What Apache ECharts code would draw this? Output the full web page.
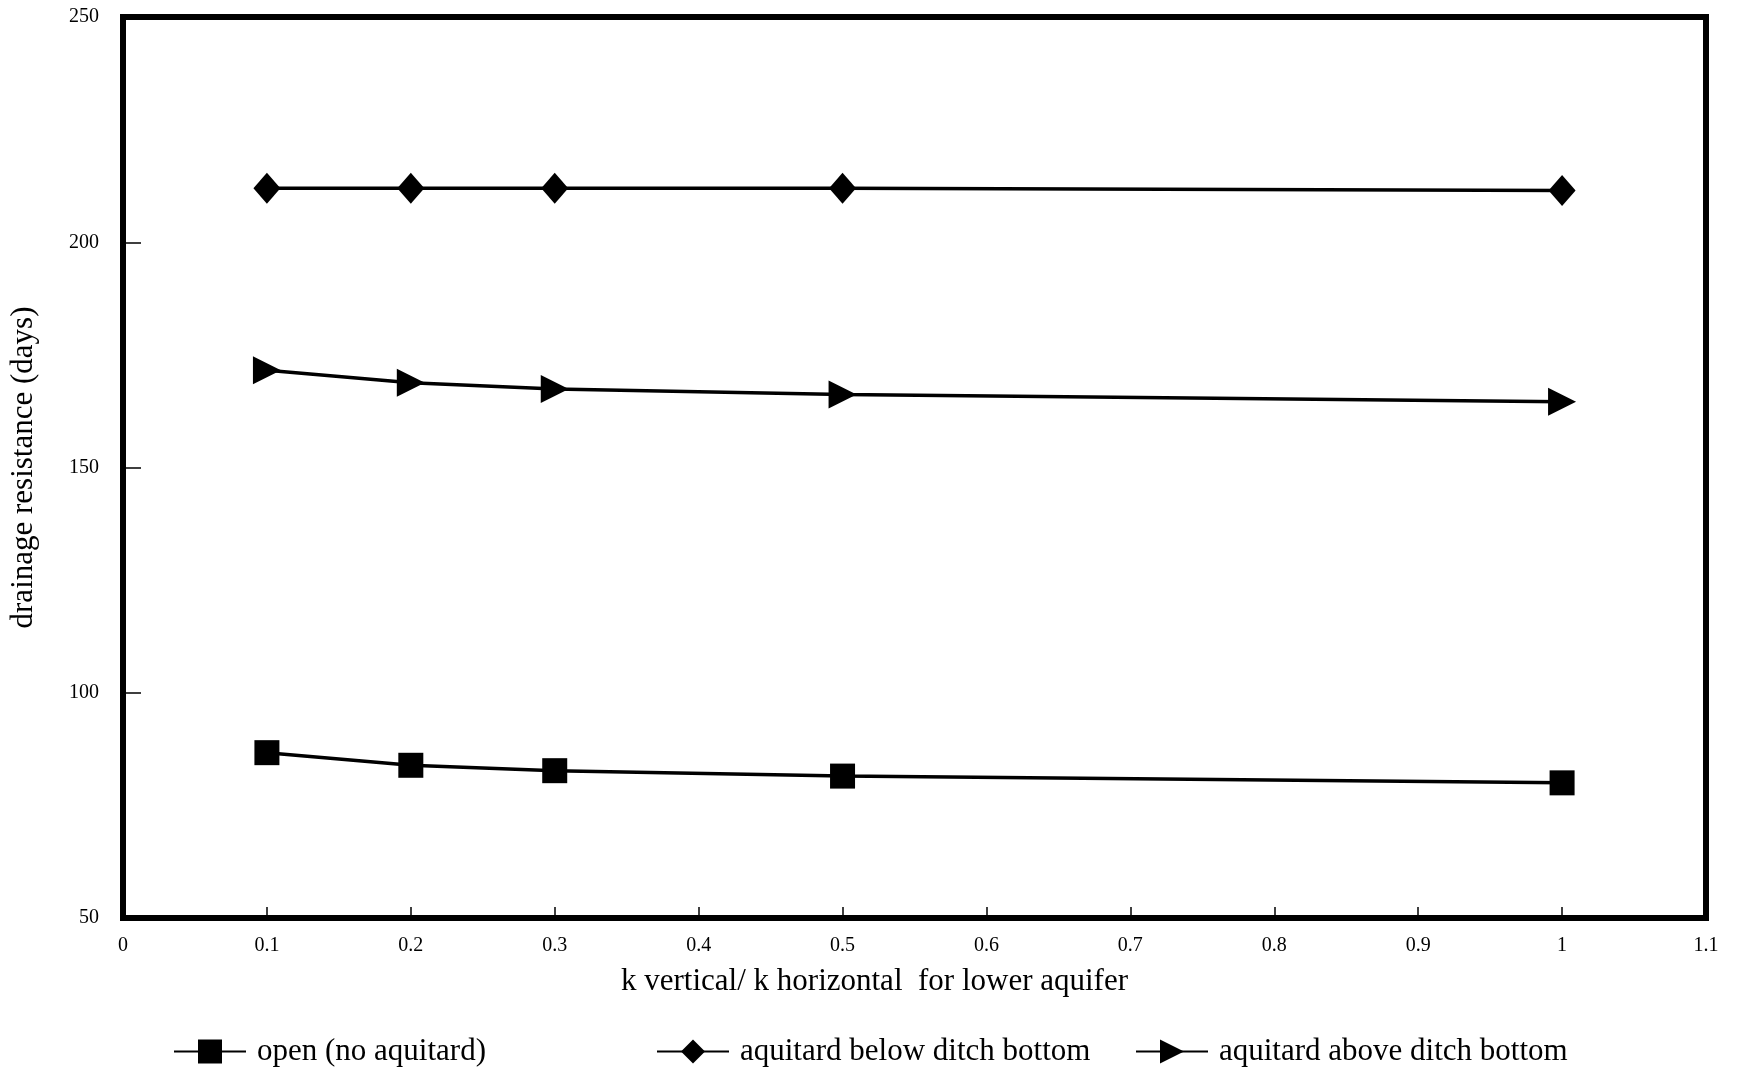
<!DOCTYPE html>
<html>
<head>
<meta charset="utf-8">
<script src="https://cdn.jsdelivr.net/npm/echarts@6/dist/echarts.min.js"></script>
<style>
html,body{margin:0;padding:0;background:#fff;}
#chart{width:1754px;height:1080px;}
</style>
</head>
<body>
<div id="chart"></div>
<script>
// ---- data ----
const xValues = [0.1, 0.2, 0.3, 0.5, 1.0];
const openNoAquitard = [86.7, 83.9, 82.7, 81.5, 80.0];
const aquitardBelow = [212, 212, 212, 212, 211.5];
const aquitardAbove = [171.6, 168.8, 167.4, 166.2, 164.6];
const seriesNames = ['open (no aquitard)', 'aquitard below ditch bottom', 'aquitard above ditch bottom'];
const xTitle = 'k vertical/ k horizontal  for lower aquifer';
const yTitle = 'drainage resistance (days)';

const FONT = 'Liberation Serif';
const pairs = (ys) => xValues.map((x, i) => [x, ys[i]]);

const chart = echarts.init(document.getElementById('chart'), null, {renderer: 'canvas'});

const legendCommon = {
  itemWidth: 72,
  itemHeight: 30,
  top: 1031,
  textStyle: {fontFamily: FONT, fontSize: 31, color: '#000', padding: [0, 0, 0, 6]}
};

chart.setOption({
  backgroundColor: '#fff',
  animation: false,
  grid: {
    left: 120, right: 48, top: 17, bottom: 162,
    show: true, borderColor: '#000', borderWidth: 6, backgroundColor: 'transparent'
  },
  xAxis: {
    type: 'value', min: 0, max: 1.1, interval: 0.1,
    axisLine: {show: false},
    axisTick: {show: true, inside: true, length: 11, lineStyle: {color: '#000', width: 1.5}},
    splitLine: {show: false},
    axisLabel: {
      fontFamily: FONT, fontSize: 20, color: '#000', margin: 18,
      formatter: (v) => String(Math.round(v * 10) / 10)
    },
    name: xTitle, nameLocation: 'middle', nameGap: 48,
    nameTextStyle: {fontFamily: FONT, fontSize: 31, color: '#000', padding: [0, 80, 0, 0]}
  },
  yAxis: {
    type: 'value', min: 50, max: 250, interval: 50,
    axisLine: {show: false},
    axisTick: {show: true, inside: true, length: 18, lineStyle: {color: '#000', width: 1.5}},
    splitLine: {show: false},
    axisLabel: {fontFamily: FONT, fontSize: 20, color: '#000', margin: 24},
    name: yTitle, nameLocation: 'middle', nameGap: 84, nameRotate: 90,
    nameTextStyle: {fontFamily: FONT, fontSize: 31, color: '#000'}
  },
  legend: [
    Object.assign({data: [seriesNames[0]], left: 168}, legendCommon),
    Object.assign({data: [seriesNames[1]], left: 651}, legendCommon),
    Object.assign({data: [seriesNames[2]], left: 1130}, legendCommon)
  ],
  series: [
    {
      name: seriesNames[0], type: 'line', data: pairs(openNoAquitard),
      symbol: 'rect', symbolSize: 25,
      lineStyle: {color: '#000', width: 3.5}, itemStyle: {color: '#000'}
    },
    {
      name: seriesNames[1], type: 'line', data: pairs(aquitardBelow),
      symbol: 'diamond', symbolSize: [27, 31],
      lineStyle: {color: '#000', width: 3.5}, itemStyle: {color: '#000'}
    },
    {
      name: seriesNames[2], type: 'line', data: pairs(aquitardAbove),
      symbol: 'triangle', symbolSize: 28, symbolRotate: -90,
      lineStyle: {color: '#000', width: 3.5}, itemStyle: {color: '#000'}
    }
  ]
});
</script>
</body>
</html>
